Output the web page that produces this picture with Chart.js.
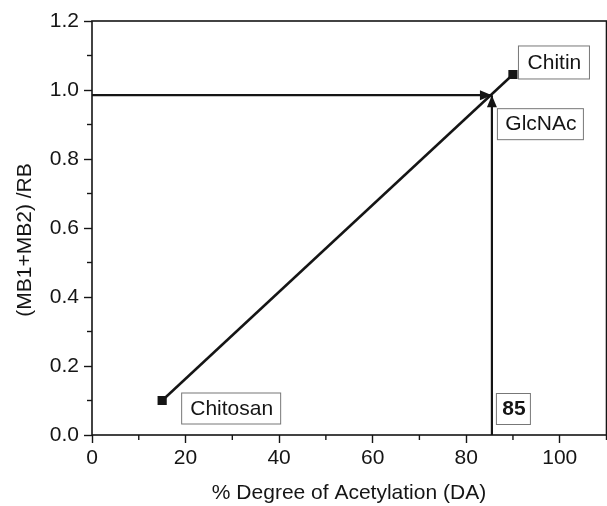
<!DOCTYPE html>
<html>
<head>
<meta charset="utf-8">
<script src="https://cdn.jsdelivr.net/npm/chart.js@4"></script>
<style>
  html, body { margin: 0; padding: 0; background: #fff; overflow: hidden; }
</style>
</head>
<body>
<canvas id="chart" width="607" height="506"></canvas>
<script>
// values
const samples = ['Chitosan', 'Chitin'];
const degreeDA = [15, 90];
const ratio = [0.1, 1.045];
const readDA = 85.5;
const readRatio = 0.985;
const readLabel = '85';
const xTickLabels = [0, 20, 40, 60, 80, 100];
const yTickLabels = ['0.0', '0.2', '0.4', '0.6', '0.8', '1.0', '1.2'];

const ink = '#151515';
const font = 'Liberation Sans, Arial, sans-serif';

const isMajorX = (v) => xTickLabels.includes(v);
const isMajorY = (v) => Math.round(v * 10) % 2 === 0;

// frame, minor ticks, arrow heads, boxed labels and axis titles
const decor = {
    id: 'decor',
    afterDatasetsDraw(chart) {
        const { ctx, chartArea: a, scales: { x, y } } = chart;
        ctx.save();
        ctx.strokeStyle = ink;
        ctx.lineWidth = 1.6;
        ctx.strokeRect(a.left, a.top, a.right - a.left, a.bottom - a.top);

        // minor ticks
        ctx.lineWidth = 1.4;
        x.ticks.forEach(t => {
            if (isMajorX(t.value)) return;
            const px = x.getPixelForValue(t.value);
            ctx.beginPath(); ctx.moveTo(px, a.bottom); ctx.lineTo(px, a.bottom + 5); ctx.stroke();
        });
        y.ticks.forEach(t => {
            if (isMajorY(t.value)) return;
            const py = y.getPixelForValue(t.value);
            ctx.beginPath(); ctx.moveTo(a.left, py); ctx.lineTo(a.left - 5, py); ctx.stroke();
        });

        // arrow heads at the reading point
        const hx = x.getPixelForValue(readDA);
        const hy = y.getPixelForValue(readRatio);
        ctx.fillStyle = ink;
        ctx.beginPath();
        ctx.moveTo(hx, hy); ctx.lineTo(hx - 5, hy + 12); ctx.lineTo(hx + 5, hy + 12); ctx.closePath(); ctx.fill();
        ctx.beginPath();
        ctx.moveTo(hx, hy); ctx.lineTo(hx - 12, hy - 5); ctx.lineTo(hx - 12, hy + 5); ctx.closePath(); ctx.fill();

        const box = (text, left, top, w, h, bold) => {
            ctx.fillStyle = '#fff';
            ctx.fillRect(left, top, w, h);
            ctx.strokeStyle = '#777';
            ctx.lineWidth = 1;
            ctx.strokeRect(left + 0.5, top + 0.5, w, h);
            ctx.fillStyle = ink;
            ctx.font = (bold ? 'bold ' : '') + '21px ' + font;
            ctx.textAlign = 'center';
            ctx.textBaseline = 'middle';
            ctx.fillText(text, left + w / 2 + 1, top + h / 2 + 1);
        };
        const cx0 = x.getPixelForValue(degreeDA[0]), cy0 = y.getPixelForValue(ratio[0]);
        const cx1 = x.getPixelForValue(degreeDA[1]), cy1 = y.getPixelForValue(ratio[1]);
        box(samples[1], cx1 + 5, cy1 - 29, 71, 33);
        box('GlcNAc', hx + 5, hy + 13, 86, 31);
        box(samples[0], cx0 + 19, cy0 - 8, 99, 31);
        box(readLabel, hx + 4, a.bottom - 42, 34, 31, true);

        // axis titles
        ctx.fillStyle = ink;
        ctx.font = '21px ' + font;
        ctx.textAlign = 'center';
        ctx.textBaseline = 'middle';
        ctx.fillText('% Degree of Acetylation (DA)', (a.left + 606) / 2, 493);
        ctx.translate(25, 240);
        ctx.rotate(-Math.PI / 2);
        ctx.fillText('(MB1+MB2) /RB', 0, 0);
        ctx.restore();
    }
};

const makeConfig = () => ({
    type: 'scatter',
    data: {
        datasets: [
            {
                label: 'DA',
                data: degreeDA.map((d, i) => ({ x: d, y: ratio[i] })),
                showLine: true,
                borderColor: ink,
                backgroundColor: ink,
                borderWidth: 2.5,
                pointStyle: 'rect',
                pointRadius: 6.5,
                pointBorderWidth: 0,
            },
            {
                label: 'read y',
                data: [{ x: 0, y: readRatio }, { x: readDA, y: readRatio }],
                showLine: true,
                borderColor: ink,
                borderWidth: 2.2,
                pointRadius: 0,
            },
            {
                label: 'read x',
                data: [{ x: readDA, y: 0 }, { x: readDA, y: readRatio }],
                showLine: true,
                borderColor: ink,
                borderWidth: 2.2,
                pointRadius: 0,
            },
        ],
    },
    options: {
        responsive: false,
        animation: false,
        layout: { padding: { top: 21, right: 1, left: 0, bottom: 0 } },
        plugins: { legend: { display: false }, tooltip: { enabled: false } },
        scales: {
            x: {
                type: 'linear',
                min: 0,
                max: 110,
                afterFit: (s) => { s.height = 71; s.paddingLeft = 0; s.paddingRight = 0; },
                border: { display: false },
                grid: {
                    drawOnChartArea: false,
                    tickLength: 8,
                    tickWidth: 1.4,
                    tickColor: (c) => isMajorX(c.tick.value) ? ink : 'transparent',
                },
                ticks: {
                    stepSize: 10,
                    autoSkip: false,
                    maxRotation: 0,
                    padding: 3,
                    color: ink,
                    font: { family: font, size: 21 },
                    callback: (v) => isMajorX(v) ? String(v) : '',
                },
            },
            y: {
                type: 'linear',
                min: 0,
                max: 1.2,
                afterFit: (s) => { s.width = 92; s.paddingTop = 0; s.paddingBottom = 0; },
                border: { display: false },
                grid: {
                    drawOnChartArea: false,
                    tickLength: 8,
                    tickWidth: 1.4,
                    tickColor: (c) => isMajorY(c.tick.value) ? ink : 'transparent',
                },
                ticks: {
                    stepSize: 0.1,
                    autoSkip: false,
                    padding: 5,
                    color: ink,
                    font: { family: font, size: 21 },
                    callback: (v) => isMajorY(v) ? yTickLabels[Math.round(v * 5)] : '',
                },
            },
        },
    },
    plugins: [decor],
});

// chart.js keeps a few px of right padding; widen the canvas past the window so the frame ends at x=606
const canvas = document.getElementById('chart');
let chart = new Chart(canvas, makeConfig());
const extra = Math.round(606 - chart.chartArea.right);
if (extra > 0) {
    chart.destroy();
    canvas.width = 607 + extra;
    canvas.height = 506;
    chart = new Chart(canvas, makeConfig());
}
</script>
</body>
</html>
